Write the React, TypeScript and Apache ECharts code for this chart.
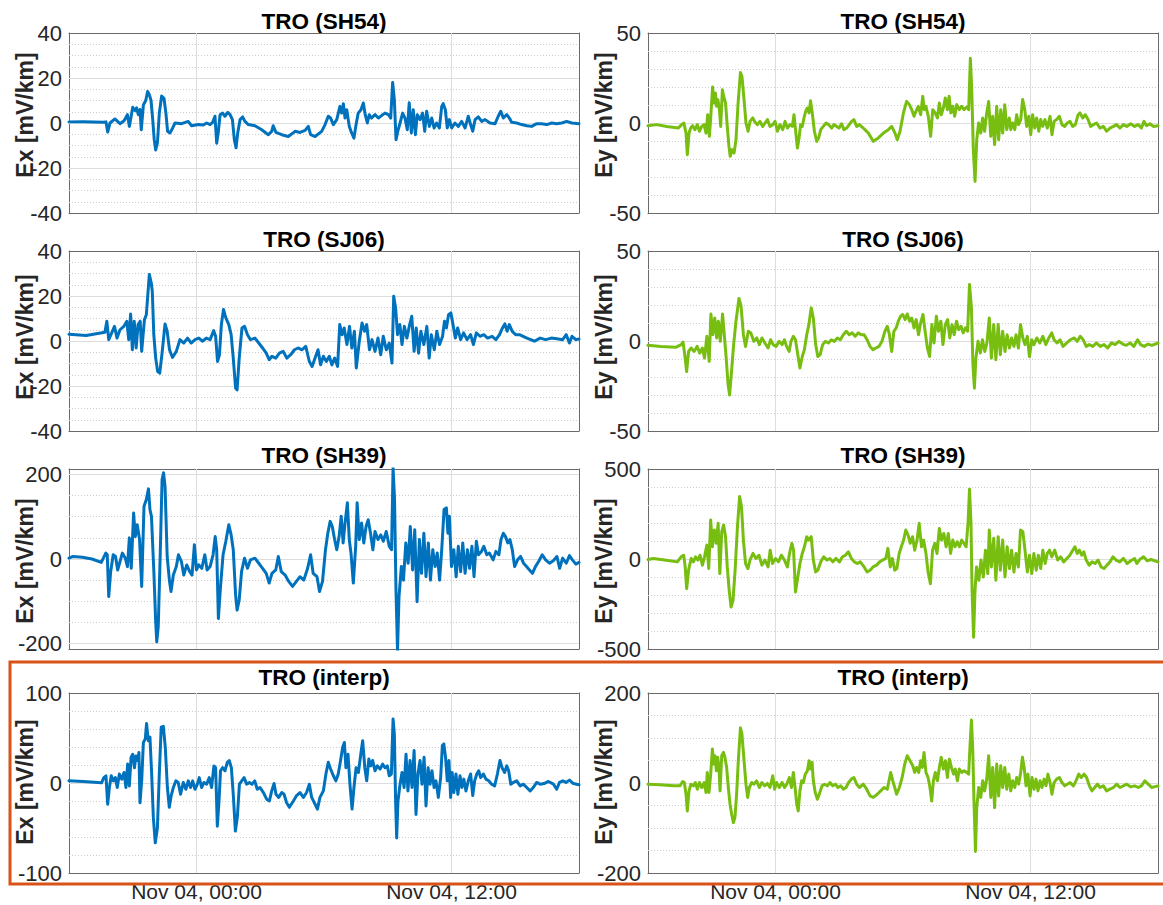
import React, { useEffect, useRef } from 'react';
import * as echarts from 'echarts';

type P = [number, number];

// x axis: hours since Nov 03, 18:00
const xTickHours = [6, 18];
const xTickLabels = ['Nov 04, 00:00', 'Nov 04, 12:00'];

const rowTitles = ['TRO (SH54)', 'TRO (SJ06)', 'TRO (SH39)', 'TRO (interp)'];

const exTicksSmall = [-40, -20, 0, 20, 40];
const eyTicksSmall = [-50, 0, 50];
const exTicksSH39 = [-200, 0, 200];
const eyTicksSH39 = [-500, 0, 500];
const exTicksInterp = [-100, 0, 100];
const eyTicksInterp = [-200, 0, 200];

const exSH54: P[] = [[0,0.5],[0.67,0.6],[1.61,0.3],[1.74,0.5],[1.82,-4],[1.93,0],[2.16,1.8],[2.40,-0.3],[2.59,1],[2.75,3.7],[2.84,-1.5],[3.00,7],[3.11,5.5],[3.18,6.7],[3.26,3.7],[3.34,6],[3.40,-3],[3.50,8],[3.61,10],[3.70,14],[3.78,12.6],[3.86,10],[3.94,1.5],[4.01,-7.4],[4.08,-12],[4.16,-9],[4.25,4.4],[4.36,12],[4.47,11],[4.56,4.4],[4.64,-3.7],[4.75,-4.4],[4.88,-2.2],[4.99,0],[5.30,-0.3],[5.61,0.7],[5.77,-1.2],[6.09,-0.7],[6.32,-0.9],[6.48,0],[6.64,-0.7],[6.76,0.3],[6.87,3],[6.95,-9],[7.03,-3.7],[7.11,3.7],[7.23,4.4],[7.34,3],[7.47,4.7],[7.58,3.7],[7.69,1.5],[7.78,-7.4],[7.86,-11],[7.94,-4.4],[8.05,1.5],[8.17,2.7],[8.28,0.7],[8.44,-0.7],[8.75,-1.2],[9.07,-3],[9.38,-5.2],[9.54,-3.7],[9.61,-1.2],[9.74,-4.2],[10.01,-5.2],[10.32,-6],[10.64,-3.7],[10.87,-4.2],[11.11,-3.3],[11.26,-1.5],[11.37,-5.2],[11.58,-6],[11.89,-3.7],[12.05,-0.7],[12.20,3],[12.31,2.2],[12.44,-0.7],[12.60,1.5],[12.75,7.4],[12.83,4.4],[12.91,8.6],[12.99,2.2],[13.07,5.9],[13.19,-1.5],[13.30,-4.4],[13.41,-6.7],[13.51,-0.7],[13.61,4.4],[13.74,5.9],[13.85,8.9],[13.94,3.7],[14.04,0],[14.13,3.7],[14.24,2.2],[14.40,3.7],[14.56,2.2],[14.71,3.3],[14.87,4.4],[15.03,3.7],[15.14,2.2],[15.23,18],[15.31,10.4],[15.39,-7.4],[15.47,-3.7],[15.58,0],[15.70,4.4],[15.81,2.2],[15.92,-3],[16.01,9],[16.11,-4.4],[16.20,5.9],[16.30,-5.2],[16.39,3.7],[16.52,1.5],[16.64,4.4],[16.74,-3.7],[16.83,5.2],[16.96,-1.5],[17.07,2.2],[17.18,-2.2],[17.30,0],[17.43,-2.2],[17.54,7.4],[17.61,8.6],[17.71,5.9],[17.80,-2.2],[17.90,1.5],[18.01,-2.2],[18.16,0],[18.32,-1.5],[18.48,0.7],[18.64,-2.2],[18.79,3],[18.90,-0.7],[19.00,-3.7],[19.11,1.5],[19.26,2.7],[19.42,0.7],[19.58,1.5],[19.81,0],[20.05,-0.3],[20.20,3],[20.32,5.2],[20.44,2.2],[20.60,3.7],[20.72,2.2],[20.83,0.3],[21.07,0],[21.30,-0.7],[21.54,-1.2],[21.77,-1.5],[22.01,-0.3],[22.24,-0.3],[22.48,-0.7],[22.72,0],[22.95,-0.3],[23.19,0],[23.42,0.7],[23.66,0],[24,-0.3]];

const exSJ06: P[] = [[0,3],[0.81,2.4],[1.69,3.9],[1.78,8.8],[1.87,0.6],[2.01,3.6],[2.14,6.5],[2.26,1.3],[2.40,5],[2.58,6.5],[2.72,8.8],[2.81,0.6],[2.90,12],[2.98,-3.9],[3.07,8.8],[3.16,-3.1],[3.25,7.3],[3.35,8.8],[3.42,-4.6],[3.55,9.5],[3.64,11.7],[3.78,29.6],[3.87,25.9],[3.92,22],[3.99,2.8],[4.08,-7.6],[4.17,-13.5],[4.27,-14.3],[4.38,-5.4],[4.52,7.6],[4.62,4.3],[4.73,-3.9],[4.87,-7.3],[5.05,-4.6],[5.22,0.6],[5.40,-0.9],[5.58,1.3],[5.75,-0.9],[5.93,0.6],[6.11,1.3],[6.28,-0.1],[6.46,1.3],[6.64,0.6],[6.81,4.6],[6.90,2.1],[6.99,-9.1],[7.08,-6.1],[7.17,7.3],[7.27,14],[7.38,10.3],[7.52,7.3],[7.63,2.8],[7.73,-7.6],[7.84,-21],[7.91,-21.7],[8.01,-7.6],[8.14,5.8],[8.26,6.5],[8.40,2.8],[8.54,0.6],[8.75,1.3],[8.93,-0.9],[9.11,-3.1],[9.28,-5.4],[9.42,-8.3],[9.55,-6.8],[9.73,-7.6],[9.90,-5.4],[10.08,-4.6],[10.25,-7.6],[10.43,-6.1],[10.61,-3.9],[10.78,-3.1],[10.96,-3.9],[11.14,-2.4],[11.31,-9.1],[11.44,-11.3],[11.58,-7.6],[11.72,-3.9],[11.84,-10.6],[11.97,-6.8],[12.11,-9.1],[12.25,-6.8],[12.37,-10.6],[12.50,-7.6],[12.64,-11.3],[12.74,7.3],[12.85,2.8],[12.95,5.8],[13.08,-1.6],[13.20,6.5],[13.31,-3.1],[13.43,4.3],[13.52,-12],[13.66,-0.1],[13.79,8],[13.91,4.3],[14.01,7.3],[14.14,-3.9],[14.26,0.6],[14.40,-4.6],[14.54,1.3],[14.67,-6.1],[14.79,2.1],[14.93,-3.9],[15.07,-0.9],[15.20,-9.8],[15.28,19.9],[15.37,14.7],[15.46,2.8],[15.57,7.3],[15.67,-1.6],[15.78,6.5],[15.90,1.3],[16.03,7.3],[16.13,11],[16.24,-4.6],[16.34,5.8],[16.45,-5.4],[16.56,4.3],[16.70,-1.6],[16.84,6.5],[16.95,-7.6],[17.05,2.8],[17.19,-3.9],[17.31,4.3],[17.44,-1.6],[17.58,2.1],[17.67,8.8],[17.76,5.8],[17.86,11.7],[17.97,12.5],[18.07,7.3],[18.18,1.3],[18.29,5.8],[18.43,0.6],[18.57,3.6],[18.73,0.6],[18.90,2.8],[19.03,-1.6],[19.17,3.6],[19.34,2.1],[19.52,2.8],[19.70,1.3],[19.91,2.1],[20.09,0.6],[20.26,2.8],[20.40,5.8],[20.51,7.6],[20.62,4.3],[20.72,7.3],[20.86,4.3],[21.02,2.8],[21.20,2.8],[21.37,2.1],[21.55,1.3],[21.73,0.6],[21.90,-0.1],[22.17,1.3],[22.43,0.6],[22.70,1.3],[22.96,1],[23.23,0.6],[23.40,2.8],[23.55,-0.9],[23.67,2.1],[23.85,0.6],[24,0.9]];

const exSH39: P[] = [[0,2],[0.19,6],[0.63,4],[1.08,0],[1.52,-8],[1.73,14],[1.80,10],[1.87,-89],[1.96,-30],[2.08,10],[2.19,6],[2.29,-26],[2.40,-6],[2.51,14],[2.65,2],[2.75,-18],[2.84,50],[2.93,-22],[3.04,109],[3.12,53],[3.21,81],[3.32,46],[3.42,-65],[3.53,125],[3.64,141],[3.74,166],[3.81,117],[3.88,101],[3.99,-26],[4.08,-149],[4.13,-196],[4.20,-160],[4.29,6],[4.38,188],[4.45,204],[4.52,172],[4.62,6],[4.73,-53],[4.80,-77],[4.91,-38],[5.05,-18],[5.15,10],[5.29,-6],[5.40,-38],[5.54,-14],[5.68,-30],[5.79,-38],[5.90,34],[6.00,-26],[6.11,-14],[6.25,-22],[6.39,10],[6.50,-26],[6.64,-18],[6.78,10],[6.88,53],[6.95,22],[7.03,-141],[7.13,-65],[7.25,10],[7.38,42],[7.52,81],[7.63,57],[7.73,22],[7.84,-85],[7.91,-121],[8.01,-97],[8.12,-30],[8.26,2],[8.40,-22],[8.54,-2],[8.75,2],[8.93,-10],[9.11,-22],[9.28,-34],[9.42,-57],[9.55,-34],[9.73,-26],[9.85,6],[9.99,-30],[10.17,-38],[10.34,-53],[10.52,-65],[10.70,-53],[10.87,-42],[11.05,-50],[11.23,-22],[11.37,10],[11.49,-34],[11.67,-42],[11.79,-77],[11.93,-53],[12.07,22],[12.18,61],[12.29,89],[12.39,77],[12.50,46],[12.60,22],[12.71,53],[12.81,101],[12.90,38],[12.99,85],[13.10,133],[13.19,46],[13.27,14],[13.38,-57],[13.49,30],[13.56,133],[13.66,46],[13.77,85],[13.87,38],[13.98,77],[14.08,93],[14.19,61],[14.30,22],[14.40,65],[14.54,46],[14.67,57],[14.79,42],[14.93,65],[15.07,30],[15.18,22],[15.25,216],[15.32,141],[15.39,-81],[15.46,-216],[15.53,-89],[15.64,-18],[15.74,-50],[15.85,38],[15.96,-10],[16.06,77],[16.17,-26],[16.27,69],[16.38,-101],[16.49,46],[16.59,-34],[16.70,61],[16.80,-42],[16.91,38],[17.01,-50],[17.12,22],[17.23,-18],[17.33,14],[17.44,-50],[17.54,22],[17.65,117],[17.76,121],[17.83,61],[17.90,101],[18.00,-18],[18.11,22],[18.22,-42],[18.32,30],[18.43,-30],[18.53,38],[18.64,-34],[18.75,22],[18.85,-22],[18.96,30],[19.06,-42],[19.17,42],[19.27,10],[19.41,18],[19.52,30],[19.66,10],[19.78,14],[19.96,-2],[20.09,18],[20.23,10],[20.33,46],[20.44,61],[20.54,53],[20.65,38],[20.75,46],[20.86,22],[20.97,-18],[21.11,-2],[21.25,6],[21.39,-10],[21.53,-18],[21.67,-26],[21.81,-34],[21.95,-18],[22.10,-6],[22.27,10],[22.43,-2],[22.61,-10],[22.79,-4],[22.96,6],[23.09,-22],[23.23,2],[23.40,-10],[23.55,8],[23.69,-2],[23.85,-12],[24,-8]];

const exInterp: P[] = [[0,2.4],[0.67,1.7],[1.53,0.2],[1.64,6],[1.74,8],[1.82,-23.6],[1.90,-5],[1.99,8],[2.08,2.4],[2.18,6],[2.27,-5],[2.37,10],[2.48,4.3],[2.59,11.7],[2.68,-5],[2.76,21],[2.84,-3.2],[2.92,28.5],[3.00,32],[3.08,17],[3.15,30],[3.23,25],[3.29,34],[3.34,-22],[3.42,2.4],[3.50,45],[3.59,49],[3.65,66],[3.73,47],[3.81,51],[3.89,10],[3.97,-38.5],[4.06,-66.5],[4.16,-50],[4.25,10],[4.34,62],[4.44,63],[4.53,40],[4.63,-5],[4.72,-27],[4.81,-14],[4.91,-5],[5.03,2.4],[5.14,0.6],[5.25,-12.5],[5.38,0.6],[5.50,-7],[5.61,2.4],[5.72,-5],[5.82,2.4],[5.93,-7],[6.04,-1.3],[6.13,6],[6.24,-5],[6.35,0.6],[6.48,-1.3],[6.60,6],[6.71,-5],[6.82,19],[6.90,17],[6.98,-48],[7.06,-20],[7.13,13.6],[7.23,17],[7.34,13.6],[7.45,23],[7.54,25],[7.64,17],[7.73,-12.5],[7.83,-53.4],[7.92,-38.5],[8.02,-1.3],[8.13,2.4],[8.24,6],[8.36,-1.3],[8.49,0.6],[8.61,-1.3],[8.74,2.4],[8.86,-7],[8.99,-5],[9.15,-10.6],[9.30,-18],[9.43,-20],[9.54,-8.8],[9.65,-0.6],[9.74,-12.5],[9.87,-16],[10.01,-10.6],[10.12,-12.5],[10.24,-22],[10.37,-27],[10.56,-20],[10.71,-14],[10.87,-10.6],[11.03,-16],[11.18,-10.6],[11.31,-1.3],[11.42,-16],[11.58,-23.6],[11.69,-29],[11.81,-16],[11.97,-8.8],[12.09,10],[12.20,23],[12.31,15.5],[12.44,8],[12.56,2.4],[12.67,10],[12.78,25],[12.88,40],[12.96,45],[13.03,17],[13.13,32],[13.22,-1.3],[13.32,-29],[13.41,-5],[13.51,17],[13.62,11.7],[13.73,32],[13.82,47],[13.92,17],[14.01,2.4],[14.11,26.6],[14.20,19],[14.29,25],[14.40,13.6],[14.51,19],[14.64,15.5],[14.76,21],[14.87,17],[14.98,19],[15.07,8],[15.17,10],[15.25,71],[15.31,54.6],[15.37,-20],[15.42,-61],[15.48,-20],[15.58,-1.3],[15.67,11.7],[15.77,-5],[15.86,32],[15.95,-8.8],[16.05,25],[16.14,-5],[16.24,36],[16.33,-35],[16.42,10],[16.52,25],[16.61,-1.3],[16.71,28.5],[16.80,-25.5],[16.90,17],[16.99,-1.3],[17.08,13.6],[17.18,-5],[17.27,2.4],[17.38,-16],[17.49,6],[17.57,41.6],[17.64,43.4],[17.72,28.5],[17.80,2.4],[17.88,25],[17.96,-16],[18.03,11.7],[18.11,-10.6],[18.21,10],[18.30,-12.5],[18.40,8],[18.49,-5],[18.58,4.3],[18.68,-8.8],[18.79,2.4],[18.90,10],[19.00,-14],[19.09,2.4],[19.19,10],[19.28,13.6],[19.37,6],[19.50,10],[19.62,4.3],[19.75,2.4],[19.89,-1.3],[20.03,-3.2],[20.16,10],[20.28,25],[20.38,17],[20.50,11.7],[20.60,19],[20.69,13.6],[20.79,-1.3],[20.91,0.6],[21.07,2.4],[21.23,-3.2],[21.38,-1.3],[21.54,-5],[21.70,-8.8],[21.85,-5],[22.01,0.6],[22.17,-1.3],[22.36,-0.6],[22.56,1.7],[22.80,-1.3],[22.95,-7],[23.08,0.6],[23.24,2.4],[23.39,0.6],[23.55,3.2],[23.74,-0.6],[24,-2]];

const eySH54: P[] = [[0,-1.5],[0.41,-0.9],[0.88,-1.9],[1.43,-2.8],[1.58,-0.9],[1.69,0],[1.79,-5.6],[1.85,-17.6],[1.93,-5.6],[2.01,-2.8],[2.10,-1.5],[2.21,-3.7],[2.32,-0.9],[2.42,-4.6],[2.53,-1.9],[2.64,-0.9],[2.73,-5.6],[2.81,4.6],[2.89,-7.4],[2.96,4.6],[3.04,20],[3.11,11.1],[3.17,16.7],[3.23,9.3],[3.29,13],[3.36,7.4],[3.42,-1.9],[3.50,18.5],[3.58,13.9],[3.65,11.1],[3.73,-1.9],[3.81,-13],[3.87,-18.5],[3.95,-14.8],[4.05,-16.7],[4.14,-9.3],[4.24,11.1],[4.35,28],[4.42,26],[4.52,13],[4.61,0],[4.71,-4.6],[4.80,0.9],[4.93,2.8],[5.04,0.4],[5.15,-0.9],[5.27,0.9],[5.40,-1.9],[5.51,0],[5.62,1.9],[5.74,-1.9],[5.87,-0.9],[5.98,0.9],[6.09,-4.6],[6.21,-0.9],[6.34,-3.7],[6.45,0.9],[6.56,-2.8],[6.68,-0.9],[6.79,-1.9],[6.87,4.6],[6.95,-4.6],[7.03,-13.9],[7.11,-8.3],[7.18,-0.9],[7.26,-1.9],[7.34,2.8],[7.42,6.5],[7.50,8.3],[7.58,5.6],[7.65,12.4],[7.73,5.6],[7.83,-4.6],[7.94,-10.2],[8.03,-8.3],[8.13,-3.7],[8.25,-1.9],[8.38,0],[8.50,-0.9],[8.64,-2.8],[8.75,-0.9],[8.88,-1.9],[8.99,-2.8],[9.11,-0.4],[9.22,-3.7],[9.35,-2.8],[9.47,-0.9],[9.58,0.9],[9.69,1.9],[9.82,-1.9],[9.95,-0.9],[10.13,-2.8],[10.37,-5.6],[10.60,-10.2],[10.84,-8.3],[11.08,-5.6],[11.31,-3.7],[11.47,-1.9],[11.62,-5.6],[11.73,-9.3],[11.86,-4.6],[12.02,5.6],[12.17,12],[12.30,10.2],[12.41,7.4],[12.52,3.7],[12.61,6.5],[12.72,9.3],[12.83,4.6],[12.93,14.8],[13.00,7.4],[13.08,9.3],[13.19,3.7],[13.30,-7.4],[13.40,7.4],[13.51,5.6],[13.62,2.8],[13.71,11.1],[13.80,4.6],[13.90,8.3],[13.99,13.9],[14.09,7.4],[14.17,14.8],[14.25,5.6],[14.34,9.3],[14.43,3.7],[14.53,10.2],[14.65,7.4],[14.76,9.3],[14.87,7.4],[15.00,8.9],[15.09,7.4],[15.17,36],[15.23,20.4],[15.31,-14.8],[15.39,-32.4],[15.47,-9.3],[15.56,0],[15.66,-5.6],[15.75,2.8],[15.84,-4.6],[15.94,5.6],[16.03,12],[16.13,-7.4],[16.22,3.7],[16.31,-12],[16.41,9.3],[16.50,-9.3],[16.60,7.4],[16.69,-5.6],[16.79,10.2],[16.88,-3.7],[17.00,2.8],[17.07,-3.7],[17.16,0],[17.26,-3.7],[17.35,4.6],[17.44,-0.9],[17.54,1.9],[17.63,13],[17.73,7.4],[17.82,-1.9],[17.92,3.7],[18.01,-6.5],[18.10,4.6],[18.20,-2.8],[18.29,2.8],[18.39,-4.6],[18.48,1.9],[18.57,-1.9],[18.68,1.9],[18.79,-2.8],[18.92,3.7],[19.01,-6.5],[19.11,0.9],[19.23,1.9],[19.36,3.7],[19.48,-0.9],[19.61,-1.9],[19.73,0],[19.86,0.9],[19.98,-1.9],[20.11,-0.9],[20.24,4.6],[20.33,5.6],[20.46,2.8],[20.58,4.6],[20.71,1.9],[20.83,-1.9],[20.96,-0.9],[21.11,0],[21.27,-2.8],[21.43,-1.9],[21.58,-4.6],[21.74,-2.8],[21.90,-1.9],[22.05,-0.9],[22.21,-2.8],[22.37,-0.9],[22.53,-1.9],[22.71,-0.4],[22.90,-1.9],[23.07,-0.9],[23.22,-2.8],[23.34,0.9],[23.46,-1.5],[23.62,-0.4],[23.78,-1.9],[24,-1.5]];

const eySJ06: P[] = [[0,-2.4],[0.60,-3],[1.30,-3.5],[1.56,-2],[1.65,-0.6],[1.74,-8.6],[1.82,-17],[1.91,-5.8],[2.03,-3.9],[2.17,-5.8],[2.31,-3],[2.44,-6.7],[2.56,-3.9],[2.66,-9.5],[2.77,2.6],[2.88,-11.3],[2.96,15],[3.05,3.5],[3.14,12.8],[3.23,1.7],[3.31,11],[3.40,-0.2],[3.51,15],[3.59,3.5],[3.68,-9.5],[3.77,-24.3],[3.84,-30],[3.93,-17],[4.03,-2],[4.14,11],[4.28,23.6],[4.38,19.3],[4.49,3.5],[4.59,-3],[4.72,5.4],[4.84,4.5],[4.98,-0.2],[5.12,1.7],[5.24,-2],[5.36,1.7],[5.50,-1.1],[5.65,-3.9],[5.77,0.7],[5.89,-2],[6.03,-3],[6.17,-0.2],[6.31,-2],[6.42,0.7],[6.52,-3],[6.64,-5.8],[6.73,-0.2],[6.84,2.6],[6.94,0.7],[7.05,-7.6],[7.15,-15],[7.26,-8.6],[7.36,-4.8],[7.47,3.5],[7.57,9.1],[7.68,18.4],[7.78,12.8],[7.89,-2],[7.99,-8.6],[8.10,-7.6],[8.22,-2],[8.34,-0.2],[8.49,-1.1],[8.63,0.7],[8.77,-0.2],[8.91,1.7],[9.05,0.7],[9.19,3.5],[9.33,5.4],[9.47,3.5],[9.61,4.5],[9.75,2.6],[9.89,4.5],[10.03,3.5],[10.17,3.5],[10.31,0.7],[10.45,-3],[10.59,-4.8],[10.73,-3.9],[10.87,-3],[11.01,-0.2],[11.15,5.4],[11.26,8.2],[11.36,3.5],[11.47,-5.8],[11.57,5.4],[11.68,7.3],[11.78,11],[11.89,13.8],[11.99,14.7],[12.10,11.9],[12.20,15],[12.31,11],[12.41,12.8],[12.52,7.3],[12.62,11.9],[12.73,3.5],[12.83,10],[12.94,14.7],[13.04,5.4],[13.15,-3.9],[13.25,-8.6],[13.36,9.1],[13.46,-1.1],[13.57,13.8],[13.67,5.4],[13.78,11],[13.88,-2],[13.99,9.1],[14.10,11.9],[14.20,1.7],[14.31,9.1],[14.41,3.5],[14.52,11],[14.62,6.3],[14.73,8.2],[14.83,4.5],[14.94,7.3],[15.04,5.4],[15.13,31.4],[15.22,18.4],[15.29,-13.2],[15.36,-26.2],[15.43,-9.5],[15.53,-0.2],[15.64,-6.7],[15.74,0.7],[15.85,-5.8],[15.95,-1.1],[16.06,12.8],[16.16,-9.5],[16.27,9.1],[16.37,-10.4],[16.48,9.1],[16.58,-7.6],[16.69,5.4],[16.80,-5.8],[16.90,3.5],[17.01,-3.9],[17.11,1.7],[17.22,-3],[17.32,3.5],[17.43,-3.9],[17.53,9.1],[17.64,1.7],[17.74,-2],[17.85,2.6],[17.95,-8.6],[18.06,0.7],[18.16,-2],[18.30,1.7],[18.44,-1.1],[18.58,2.6],[18.72,-2],[18.86,1.7],[19.00,4.5],[19.11,0.7],[19.25,-1.1],[19.39,0.7],[19.53,-3],[19.71,-1.1],[19.88,0.7],[20.06,1.7],[20.20,-0.2],[20.34,2.6],[20.48,0.7],[20.62,-3],[20.76,-2],[20.93,-3],[21.11,-1.1],[21.28,-3],[21.46,-2],[21.63,-3.9],[21.81,-1.1],[21.98,-2],[22.16,-0.2],[22.34,-1.7],[22.51,-2.4],[22.69,-1.1],[22.86,-3],[23.04,0.7],[23.18,-2],[23.35,-3],[23.53,-1.7],[23.71,-2.4],[24,-1.1]];

const eySH39: P[] = [[0,-3],[0.25,3],[0.77,-6],[1.38,-16],[1.56,12],[1.68,21],[1.75,-44],[1.82,-165],[1.91,-62],[2.03,3],[2.14,-16],[2.24,12],[2.35,-6],[2.45,21],[2.56,-34],[2.66,12],[2.77,77],[2.86,-53],[2.95,217],[3.03,68],[3.12,161],[3.21,87],[3.30,198],[3.38,-81],[3.47,152],[3.56,189],[3.65,124],[3.73,-44],[3.82,-174],[3.91,-267],[4.00,-230],[4.10,-62],[4.21,180],[4.31,347],[4.40,291],[4.49,105],[4.59,-25],[4.70,-53],[4.80,-6],[4.94,31],[5.08,3],[5.22,21],[5.36,-34],[5.50,-6],[5.65,-44],[5.75,49],[5.86,-25],[6.00,3],[6.14,-16],[6.28,21],[6.42,-6],[6.56,-44],[6.66,31],[6.77,87],[6.85,49],[6.94,-183],[7.05,-100],[7.15,-25],[7.26,31],[7.36,68],[7.47,124],[7.57,105],[7.68,124],[7.78,-6],[7.89,-72],[7.99,-62],[8.13,-16],[8.27,12],[8.42,-6],[8.56,3],[8.70,-16],[8.84,3],[9.01,-16],[9.15,12],[9.29,21],[9.43,40],[9.57,3],[9.71,-16],[9.85,-25],[9.99,-16],[10.17,-44],[10.31,-72],[10.45,-62],[10.59,-44],[10.76,-34],[10.90,-16],[11.04,-6],[11.19,3],[11.29,59],[11.40,-44],[11.50,3],[11.61,-62],[11.71,-53],[11.82,31],[11.92,68],[12.03,105],[12.13,161],[12.24,133],[12.34,87],[12.45,124],[12.55,49],[12.66,105],[12.76,198],[12.87,68],[12.97,105],[13.08,31],[13.18,-72],[13.29,-137],[13.39,49],[13.50,87],[13.60,31],[13.71,170],[13.81,105],[13.92,142],[14.03,68],[14.13,142],[14.24,31],[14.34,105],[14.45,68],[14.55,96],[14.66,68],[14.76,105],[14.87,87],[14.97,68],[15.06,198],[15.13,388],[15.20,198],[15.25,-174],[15.32,-435],[15.39,-174],[15.46,-44],[15.57,-118],[15.67,-6],[15.78,-100],[15.88,49],[15.99,-81],[16.06,161],[16.16,-44],[16.27,115],[16.37,-118],[16.48,124],[16.58,-62],[16.69,105],[16.80,-100],[16.90,68],[17.01,-53],[17.11,49],[17.22,-72],[17.32,31],[17.43,-44],[17.53,161],[17.64,152],[17.74,49],[17.85,-72],[17.95,21],[18.06,-81],[18.16,31],[18.27,-62],[18.37,21],[18.48,-53],[18.58,49],[18.69,-25],[18.79,31],[18.90,49],[19.00,12],[19.14,49],[19.28,-6],[19.42,12],[19.56,-16],[19.71,3],[19.85,21],[19.99,49],[20.09,68],[20.20,31],[20.30,49],[20.41,21],[20.51,40],[20.62,-6],[20.76,-34],[20.90,-16],[21.04,-25],[21.18,-6],[21.32,-44],[21.46,-53],[21.60,-34],[21.74,-16],[21.88,12],[22.02,-6],[22.20,-16],[22.37,3],[22.55,-25],[22.72,-10],[22.90,3],[23.00,-25],[23.14,-3],[23.32,12],[23.49,-10],[23.67,-3],[24,-16]];

const eyInterp: P[] = [[0,-2.6],[0.56,-4],[1.19,-6.3],[1.51,-6.3],[1.63,3.4],[1.71,1],[1.79,-25],[1.85,-62],[1.93,-17.5],[2.02,-2.6],[2.13,-6.3],[2.23,1],[2.32,-13.8],[2.42,1],[2.53,-10],[2.64,1],[2.73,-21],[2.79,23.5],[2.87,-21],[2.95,19.7],[3.03,75.6],[3.09,42],[3.15,60.7],[3.22,27],[3.28,57],[3.34,34.6],[3.39,-17.5],[3.47,60.7],[3.55,68],[3.62,57],[3.70,34.6],[3.78,-10],[3.86,-47],[3.94,-70],[4.02,-88],[4.09,-77],[4.17,-25],[4.25,49.5],[4.35,122.5],[4.42,109],[4.52,49.5],[4.61,-2.6],[4.69,-32],[4.77,-10],[4.88,1],[4.99,-2.6],[5.11,4.8],[5.24,-10],[5.36,1],[5.49,-6.3],[5.62,-1],[5.74,-10],[5.87,16],[5.96,-13.8],[6.05,1],[6.18,-10],[6.31,1],[6.43,-10],[6.53,-2.6],[6.65,12.3],[6.75,-10],[6.84,23.5],[6.92,-10],[7.00,-47],[7.07,-62],[7.15,-17.5],[7.23,4.8],[7.31,1],[7.40,19.7],[7.50,27],[7.58,49.5],[7.64,31],[7.72,45.8],[7.78,4.8],[7.87,-21],[7.97,-36],[8.06,-25],[8.19,-6.3],[8.31,-2.6],[8.44,-6.3],[8.56,1],[8.69,-6.3],[8.82,-2.6],[8.94,-10],[9.07,-6.3],[9.19,-13.8],[9.32,-10],[9.44,1],[9.57,8.6],[9.69,12.3],[9.82,-2.6],[9.95,-10],[10.13,-2.6],[10.29,-13.8],[10.45,-28.7],[10.60,-32],[10.79,-25],[10.95,-17.5],[11.11,-10],[11.26,-13.8],[11.42,23.5],[11.52,4.8],[11.61,-10],[11.70,-25],[11.83,-10],[11.96,12.3],[12.08,42],[12.20,60.7],[12.33,49.5],[12.46,38.4],[12.55,23.5],[12.64,34.6],[12.74,23.5],[12.83,49.5],[12.91,34.6],[12.99,68],[13.08,23.5],[13.18,12.3],[13.27,-10],[13.35,-40],[13.43,4.8],[13.52,23.5],[13.62,4.8],[13.71,34.6],[13.80,57],[13.90,31],[14.00,49.5],[14.09,12.3],[14.18,53],[14.28,34.6],[14.38,19.7],[14.46,31],[14.56,4.8],[14.65,31],[14.76,23.5],[14.87,27],[15.00,23.5],[15.09,19.7],[15.15,79],[15.22,140],[15.28,79],[15.34,-40],[15.41,-152],[15.47,-55],[15.56,-10],[15.66,-32],[15.75,4.8],[15.84,-17.5],[15.94,8.6],[16.03,60.7],[16.13,-32],[16.22,34.6],[16.31,-55],[16.41,42],[16.50,-28.7],[16.60,38.4],[16.69,-10],[16.79,34.6],[16.88,-13.8],[16.98,19.7],[17.07,-17.5],[17.16,4.8],[17.26,-10],[17.35,12.3],[17.44,-2.6],[17.54,23.5],[17.62,57],[17.70,34.6],[17.79,-6.3],[17.88,19.7],[17.98,-28.7],[18.07,12.3],[18.17,-13.8],[18.26,8.6],[18.35,-17.5],[18.45,4.8],[18.54,-10],[18.64,8.6],[18.73,-6.3],[18.82,19.7],[18.92,1],[19.01,-25],[19.11,1],[19.23,8.6],[19.36,12.3],[19.48,1],[19.61,-6.3],[19.73,-2.6],[19.86,1],[20.02,-6.3],[20.14,4.8],[20.27,19.7],[20.39,12.3],[20.52,19.7],[20.64,12.3],[20.77,-6.3],[20.89,-17.5],[21.02,-10],[21.15,-2.6],[21.27,-10],[21.43,-6.3],[21.58,-17.5],[21.74,-13.8],[21.90,-10],[22.05,-2.6],[22.21,-10],[22.37,-6.3],[22.53,-2.6],[22.71,-8.6],[22.90,-6.3],[23.07,-10],[23.22,-6.3],[23.38,4.8],[23.54,-2.6],[23.70,-10],[24,-6.3]];

const BLUE = '#0072BD';
const GREEN = '#77BE10';
const AX = '#6A6A6A';
const TXT = '#262626';
const FONT = '"Liberation Sans", Arial, Helvetica, sans-serif';

const COL_LEFT = [69, 648];
const ROW_TOP = [33, 251, 469, 693];
const PW = 510;
const PH = 180;
const LABEL_Y = [115, 337, 561, 782];
const TITLE_Y = [21, 239, 455, 677];

const panels = [
  { row: 0, col: 0, data: exSH54, ticks: exTicksSmall, min: -40, max: 40, minor: 5, label: 'Ex [mV/km]', color: BLUE },
  { row: 0, col: 1, data: eySH54, ticks: eyTicksSmall, min: -50, max: 50, minor: 10, label: 'Ey [mV/km]', color: GREEN },
  { row: 1, col: 0, data: exSJ06, ticks: exTicksSmall, min: -40, max: 40, minor: 5, label: 'Ex [mV/km]', color: BLUE },
  { row: 1, col: 1, data: eySJ06, ticks: eyTicksSmall, min: -50, max: 50, minor: 10, label: 'Ey [mV/km]', color: GREEN },
  { row: 2, col: 0, data: exSH39, ticks: exTicksSH39, min: -213, max: 213, minor: 50, label: 'Ex [mV/km]', color: BLUE },
  { row: 2, col: 1, data: eySH39, ticks: eyTicksSH39, min: -500, max: 500, minor: 100, label: 'Ey [mV/km]', color: GREEN },
  { row: 3, col: 0, data: exInterp, ticks: exTicksInterp, min: -100, max: 100, minor: 20, label: 'Ex [mV/km]', color: BLUE },
  { row: 3, col: 1, data: eyInterp, ticks: eyTicksInterp, min: -200, max: 200, minor: 50, label: 'Ey [mV/km]', color: GREEN },
];

function buildOption() {
  const grid: any[] = [];
  const xAxis: any[] = [];
  const yAxis: any[] = [];
  const series: any[] = [];
  const graphic: any[] = [];

  panels.forEach((p, i) => {
    const left = COL_LEFT[p.col];
    const top = ROW_TOP[p.row];
    grid.push({ left, top, width: PW, height: PH, containLabel: false });
    const axisLine = { show: true, onZero: false, lineStyle: { color: AX, width: 1 } };
    const xTick = { show: true, inside: true, length: 5, lineStyle: { color: AX, width: 1 }, customValues: xTickHours };
    const yTick = { show: true, inside: true, length: 5, lineStyle: { color: AX, width: 1 }, customValues: p.ticks };
    xAxis.push({
      type: 'value', gridIndex: i, min: 0, max: 24, position: 'bottom',
      axisLine, axisTick: xTick, splitLine: { show: false },
      axisLabel: {
        show: p.row === 3, customValues: xTickHours, margin: 8,
        formatter: (v: number) => { const k = xTickHours.indexOf(v); return k >= 0 ? xTickLabels[k] : ''; },
        fontSize: 21, color: TXT, fontFamily: FONT,
      },
    });
    xAxis.push({
      type: 'value', gridIndex: i, min: 0, max: 24, position: 'top',
      axisLine, axisTick: xTick, splitLine: { show: false }, axisLabel: { show: false },
    });
    yAxis.push({
      type: 'value', gridIndex: i, min: p.min, max: p.max, position: 'left',
      axisLine, axisTick: yTick, splitLine: { show: false },
      axisLabel: { customValues: p.ticks, showMinLabel: true, showMaxLabel: true, margin: 7, fontSize: 22, color: TXT, fontFamily: FONT },
    });
    yAxis.push({
      type: 'value', gridIndex: i, min: p.min, max: p.max, position: 'right',
      axisLine, axisTick: yTick, splitLine: { show: false }, axisLabel: { show: false },
    });

    const minorVals: number[] = [];
    for (let v = Math.ceil(p.min / p.minor) * p.minor; v <= p.max; v += p.minor) {
      if (v > p.min && v < p.max && p.ticks.indexOf(v) < 0) minorVals.push(v);
    }
    const majorVals = p.ticks.filter((v) => v > p.min && v < p.max);
    const lines: any[] = [
      ...minorVals.map((v) => ({ yAxis: v, lineStyle: { color: '#CCCCCC', type: [1, 2], width: 1 } })),
      ...majorVals.map((v) => ({ yAxis: v, lineStyle: { color: '#DDDDDD', type: 'solid', width: 1 } })),
      ...xTickHours.map((h) => ({ xAxis: h, lineStyle: { color: '#DDDDDD', type: 'solid', width: 1 } })),
    ];
    series.push({
      type: 'line', xAxisIndex: 2 * i, yAxisIndex: 2 * i, data: [], silent: true, z: 1,
      markLine: { z: 1, silent: true, symbol: ['none', 'none'], label: { show: false }, animation: false, emphasis: { disabled: true }, data: lines },
    });
    series.push({
      type: 'line', xAxisIndex: 2 * i, yAxisIndex: 2 * i, data: p.data, z: 3, silent: true,
      showSymbol: false, symbol: 'none',
      lineStyle: { color: p.color, width: 3, join: 'round', cap: 'round' },
    });

    graphic.push({
      type: 'text', x: left + PW / 2, y: TITLE_Y[p.row],
      style: { text: rowTitles[p.row], fontSize: 22.5, fontWeight: 'bold', fontFamily: FONT, fill: '#000', align: 'center', verticalAlign: 'middle', textAlign: 'center', textVerticalAlign: 'middle' },
    });
    graphic.push({
      type: 'text', x: left - 44, y: LABEL_Y[p.row], rotation: Math.PI / 2,
      style: { text: p.label, fontSize: 23, fontWeight: 'bold', fontFamily: FONT, fill: TXT, align: 'center', verticalAlign: 'middle', textAlign: 'center', textVerticalAlign: 'middle' },
    });
  });

  graphic.push({
    type: 'rect', z: 100,
    shape: { x: 10, y: 662, width: 1160, height: 222 },
    style: { fill: 'none', stroke: '#D95319', lineWidth: 3 },
  });

  return {
    animation: false,
    backgroundColor: '#ffffff',
    grid, xAxis, yAxis, series, graphic,
  };
}

export default function App() {
  const ref = useRef<HTMLDivElement>(null);
  useEffect(() => {
    if (!ref.current) return;
    const chart = echarts.init(ref.current, undefined, { renderer: 'svg' });
    chart.setOption(buildOption() as any);
    return () => chart.dispose();
  }, []);
  return (
    <div
      ref={ref}
      style={{ position: 'fixed', left: 0, top: 0, width: 1163, height: 905, background: '#fff' }}
    />
  );
}
